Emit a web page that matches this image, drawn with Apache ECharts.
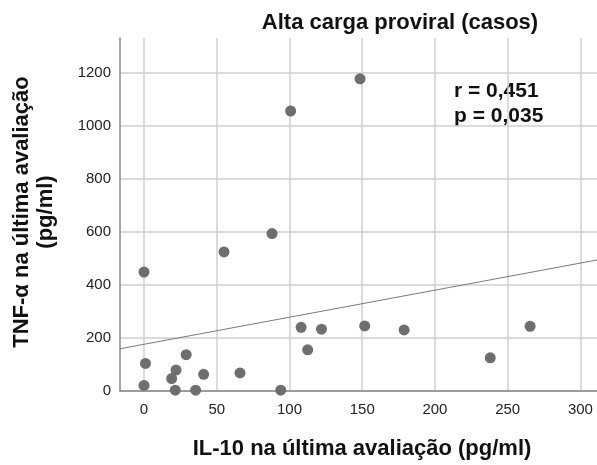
<!DOCTYPE html>
<html>
<head>
<meta charset="utf-8">
<script src="https://cdn.jsdelivr.net/npm/echarts@6/dist/echarts.min.js"></script>
<style>
  html, body { margin: 0; padding: 0; background: #fff; }
  #chart { width: 597px; height: 465px; }
</style>
</head>
<body>
<div id="chart"></div>
<script>
// IL-10 (x) e TNF-alfa (y), ultima avaliacao
var il10 = [0, 1, 0, 19, 22, 21.5, 29, 35.5, 41, 55, 66, 88, 94, 100.8, 108, 112.5, 122, 148.5, 151.7, 178.8, 238, 265.4];
var tnf = [21, 104, 448, 47, 79, 3, 137, 3, 63, 524, 68, 593, 3, 1055, 240, 155, 233, 1176, 245, 230, 125, 244];
var xTicks = [0, 50, 100, 150, 200, 250, 300];
var yTicks = [0, 200, 400, 600, 800, 1000, 1200];
// reta de ajuste
var fitIntercept = 176;
var fitSlope = 1.02;
var xRange = [-16.5, 311.4];
var yRange = [0, 1330];

var chart = echarts.init(document.getElementById('chart'));
var font = 'Liberation Sans, Arial, sans-serif';

let points = il10.map(function (v, i) { return [v, tnf[i]]; });
let fitLine = xRange.map(function (v) { return [v, fitIntercept + fitSlope * v]; });

let option = {
  animation: false,
  grid: { left: 120, top: 38, right: 0, bottom: 74 },
  xAxis: {
    type: 'value',
    min: xRange[0],
    max: xRange[1],
    axisLine: { show: true, onZero: false, lineStyle: { color: '#888', width: 1.5 } },
    axisTick: { show: false, customValues: xTicks },
    axisLabel: {
      customValues: xTicks, color: '#222', fontSize: 15, fontFamily: font, margin: 11,
      formatter: function (v) { return String(v); }
    },
    splitLine: { show: true, lineStyle: { color: '#cfcfcf', width: 1.5 } }
  },
  yAxis: {
    type: 'value',
    min: yRange[0],
    max: yRange[1],
    axisLine: { show: true, onZero: false, lineStyle: { color: '#888', width: 1.5 } },
    axisTick: { show: false, customValues: yTicks },
    axisLabel: {
      customValues: yTicks, color: '#222', fontSize: 15, fontFamily: font, margin: 9,
      formatter: function (v) { return String(v); }
    },
    splitLine: { show: true, lineStyle: { color: '#cfcfcf', width: 1.5 } }
  },
  series: [
    {
      type: 'line',
      data: fitLine,
      symbol: 'none',
      lineStyle: { color: '#7a7a7a', width: 1 },
      z: 2
    },
    {
      type: 'scatter',
      data: points,
      symbolSize: 11,
      itemStyle: { color: '#6e6e6e', opacity: 1 },
      z: 3
    }
  ],
  graphic: [
    {
      type: 'text', x: 400, y: 23,
      style: { text: 'Alta carga proviral (casos)', font: 'bold 22px ' + font, fill: '#111', align: 'center', verticalAlign: 'middle' }
    },
    {
      type: 'text', x: 454, y: 104,
      style: { text: 'r = 0,451\np = 0,035', font: 'bold 21px ' + font, fill: '#111', align: 'left', verticalAlign: 'middle', lineHeight: 25 }
    },
    {
      type: 'text', x: 362, y: 449,
      style: { text: 'IL-10 na última avaliação (pg/ml)', font: 'bold 22px ' + font, fill: '#111', align: 'center', verticalAlign: 'middle' }
    },
    {
      type: 'text', x: 34, y: 212, rotation: Math.PI / 2,
      style: { text: 'TNF-α na última avaliação\n(pg/ml)', font: 'bold 22px ' + font, fill: '#111', align: 'center', verticalAlign: 'middle', lineHeight: 24 }
    }
  ]
};
chart.setOption(option);
</script>
</body>
</html>
